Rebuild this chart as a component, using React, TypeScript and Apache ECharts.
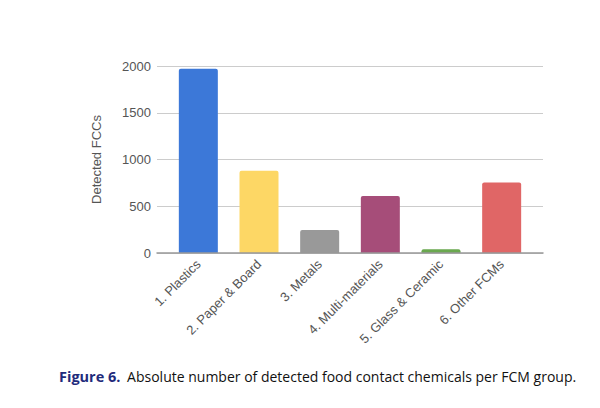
import React, { useEffect, useRef } from "react";
import * as echarts from "echarts";

const categories = [
  "1. Plastics",
  "2. Paper & Board",
  "3. Metals",
  "4. Multi-materials",
  "5. Glass & Ceramic",
  "6. Other FCMs",
];
const values = [1970, 880, 245, 610, 40, 755];
const barColors = ["#3c78d8", "#fdd765", "#999999", "#a64d79", "#6aa84f", "#e06666"];
const yTicks = [0, 500, 1000, 1500, 2000];
const yName = "Detected FCCs";
const captionLabel = "Figure 6.";
const captionText = "Absolute number of detected food contact chemicals per FCM group.";

export default function App() {
  const ref = useRef<HTMLDivElement>(null);
  useEffect(() => {
    if (!ref.current) return;
    const chart = echarts.init(ref.current, null, { renderer: "svg" });
    const yMin = yTicks[0];
    const yMax = yTicks[yTicks.length - 1];
    const yInterval = yTicks[1] - yTicks[0];
    const font = "'Liberation Sans', Arial, sans-serif";
    chart.setOption({
      animation: false,
      backgroundColor: "#ffffff",
      grid: [
        { left: 157, right: 57, top: 66, bottom: 155 },
        { left: 168, right: 68, top: 66, bottom: 155 },
      ],
      xAxis: [
        {
          type: "category",
          gridIndex: 0,
          data: [""],
          axisLine: { show: true, lineStyle: { color: "#999999", width: 1.5 } },
          axisTick: { show: false },
          axisLabel: { show: false },
          z: 5,
        },
        {
          type: "category",
          gridIndex: 1,
          data: categories,
          axisLine: { show: false },
          axisTick: { show: false },
          axisLabel: {
            interval: 0,
            rotate: 45,
            color: "#555555",
            fontSize: 13,
            fontFamily: font,
            margin: 9,
          },
        },
      ],
      yAxis: [
        {
          type: "value",
          gridIndex: 0,
          min: yMin,
          max: yMax,
          interval: yInterval,
          name: yName,
          nameLocation: "middle",
          nameGap: 54,
          nameTextStyle: { color: "#555555", fontSize: 13, fontFamily: font },
          axisLine: { show: false },
          axisTick: { show: false },
          axisLabel: {
            color: "#555555",
            fontSize: 13,
            fontFamily: font,
            margin: 6,
            formatter: (v: number) => String(v),
          },
          splitLine: { lineStyle: { color: "#cccccc", width: 1 } },
        },
        {
          type: "value",
          gridIndex: 1,
          min: yMin,
          max: yMax,
          interval: yInterval,
          show: false,
          splitLine: { show: false },
        },
      ],
      series: [
        {
          type: "bar",
          xAxisIndex: 1,
          yAxisIndex: 1,
          data: values.map((v, i) => ({ value: v, itemStyle: { color: barColors[i] } })),
          barWidth: 39,
          itemStyle: { borderRadius: [2, 2, 0, 0] },
        },
      ],
      graphic: [
        {
          type: "text",
          left: 59,
          top: 369,
          style: {
            text: `{a|${captionLabel}}  {b|${captionText}}`,
            rich: {
              a: { fontSize: 14.5, fontWeight: "bold", fill: "#1f2b7b", fontFamily: "'Open Sans', 'Noto Sans', sans-serif" },
              b: { fontSize: 14, fill: "#111111", fontFamily: "'Open Sans', 'Noto Sans', sans-serif" },
            },
          },
        },
      ],
    });
    return () => chart.dispose();
  }, []);
  return <div ref={ref} style={{ width: 600, height: 408, position: "absolute", left: 0, top: 0 }} />;
}
